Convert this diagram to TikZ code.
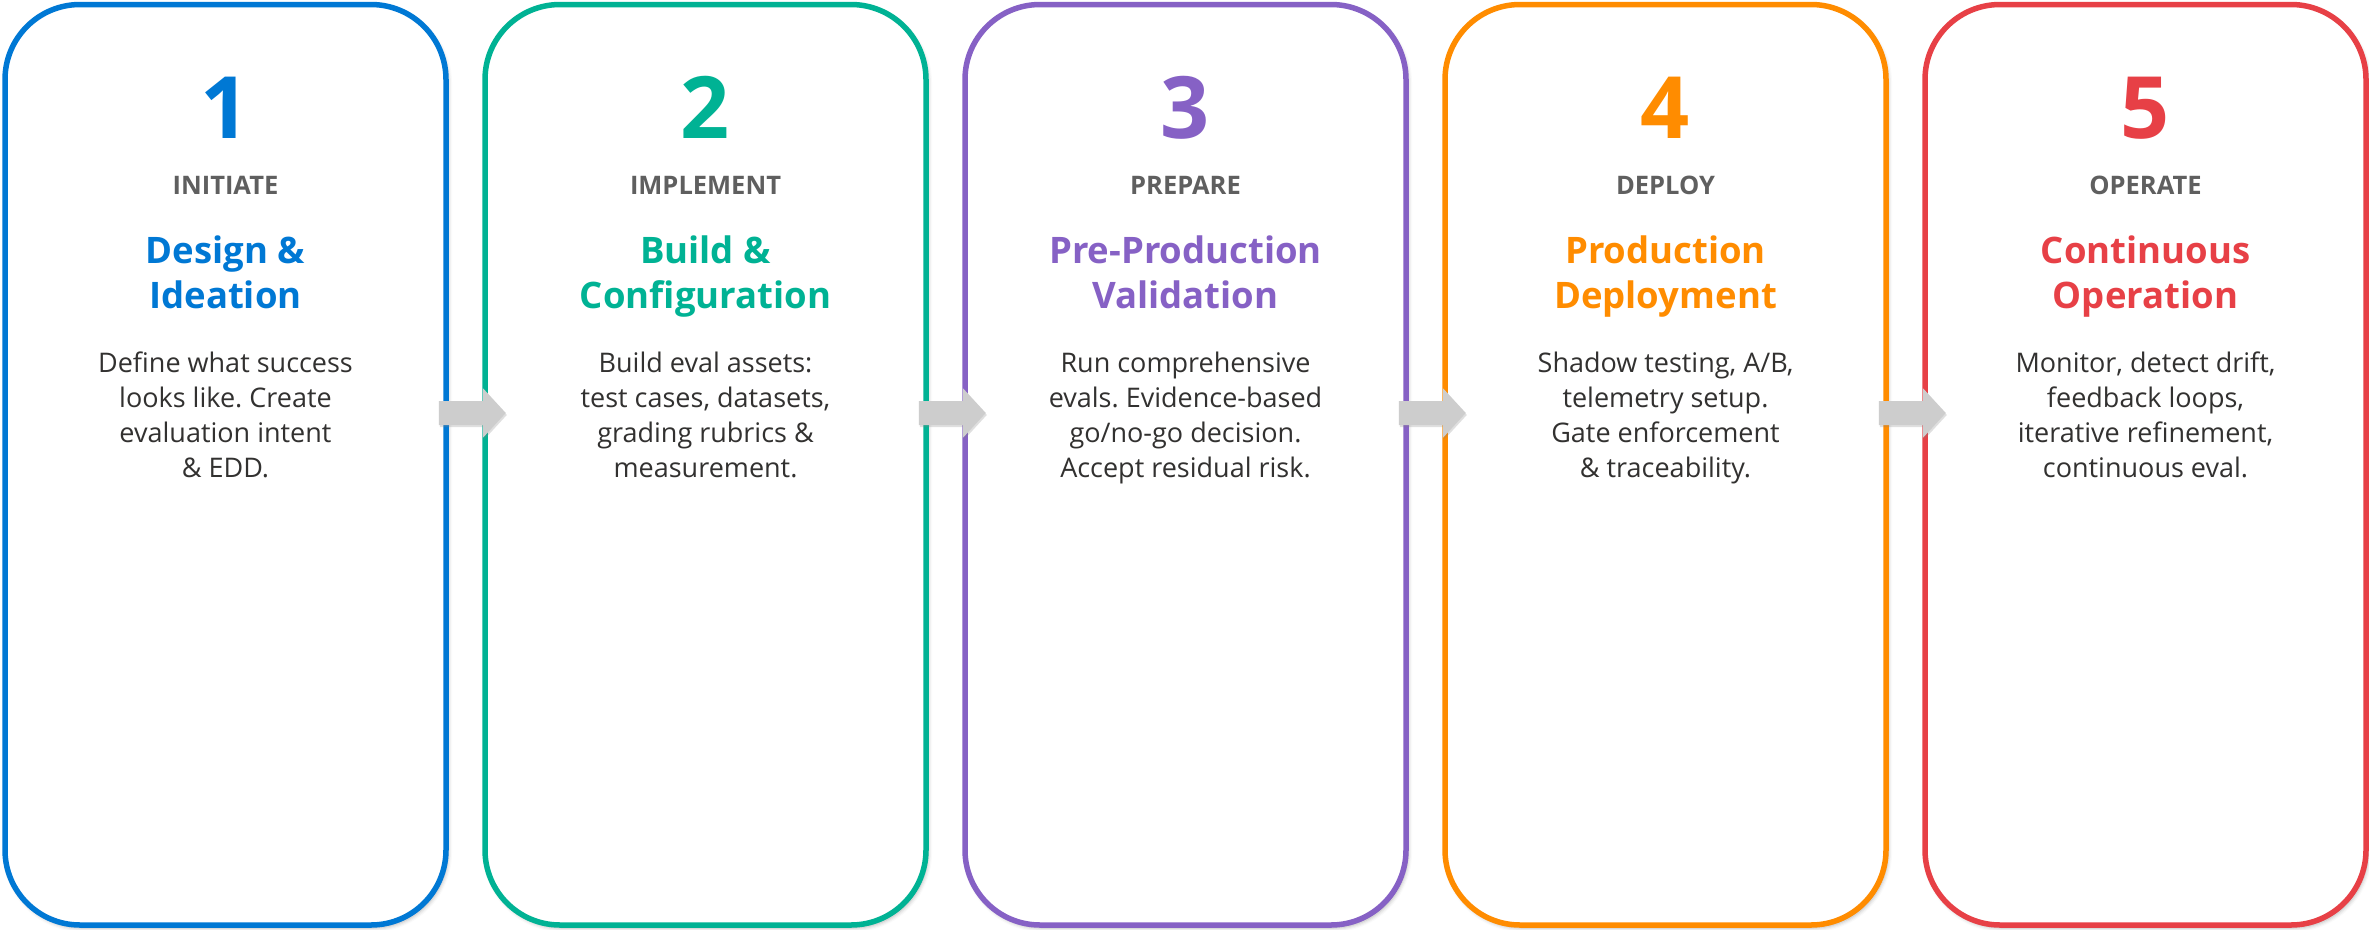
\documentclass[tikz,border=0pt]{standalone}
\usepackage{fontspec}
\setmainfont{Open Sans}
\frenchspacing
\usetikzlibrary{shadows.blur,shadows,calc}

\definecolor{cBlue}{HTML}{0078D4}
\definecolor{cTeal}{HTML}{00B294}
\definecolor{cPurple}{HTML}{8661C5}
\definecolor{cOrange}{HTML}{FF8C00}
\definecolor{cRed}{HTML}{E74046}
\definecolor{labelgray}{HTML}{5F5F5F}
\definecolor{bodytext}{HTML}{323130}
\definecolor{arrowgray}{HTML}{CDCDCD}

\tikzset{
  stagebox/.style={draw=#1, line width=5.5pt, fill=white, rounded corners=75pt,
    minimum width=441pt, minimum height=920.5pt, inner sep=0pt,
    blur shadow={shadow xshift=2pt, shadow yshift=-3pt, shadow blur radius=4pt, shadow opacity=30}},
  stagenum/.style={text=#1, font=\bfseries\fontsize{86}{86}\selectfont, anchor=base, inner sep=0pt},
  stagetag/.style={text=labelgray, font=\bfseries\fontsize{25.5}{30}\selectfont, anchor=base, inner sep=0pt},
  stagetitle/.style={text=#1, font=\bfseries\fontsize{36.5}{44.5}\selectfont, align=center, anchor=base, inner sep=0pt},
  stagebody/.style={text=bodytext, font=\fontsize{27}{35}\selectfont, align=center, anchor=base, inner sep=0pt},
  flowarrow/.style={fill=arrowgray, draw=none,
    drop shadow={shadow xshift=1pt, shadow yshift=-2pt, opacity=0.25}},
}

\begin{document}
\begin{tikzpicture}[x=1pt,y=-1pt]
\useasboundingbox (0,0) rectangle (2369,929);

% the five stage cards
\foreach \i/\col in {1/cBlue,2/cTeal,3/cPurple,4/cOrange,5/cRed}{
  \node[stagebox=\col] (box\i) at ({225.5+480*(\i-1)},464.75) {};
}

% block arrows between consecutive cards, laid over both borders
\foreach \i [evaluate=\i as \j using int(\i+1)] in {1,2,3,4}{
  \coordinate (tail\i) at ($(box\i.east)+(-10,-63.75)$);
  \path[flowarrow] (tail\i) -- ++(44,0) -- ++(0,-13) -- ++(23,25) -- ++(-23,25)
    -- ++(0,-13) -- ++(-44,0) -- cycle;
}

% card contents
\foreach \i/\col/\tag/\title/\body in {
  1/cBlue/INITIATE/{Design \&\\Ideation}/{Define what success\\looks like. Create\\evaluation intent\\\& EDD.},
  2/cTeal/IMPLEMENT/{Build \&\\Configuration}/{Build eval assets:\\test cases, datasets,\\grading rubrics \&\\measurement.},
  3/cPurple/PREPARE/{Pre-Production\\Validation}/{Run comprehensive\\evals. Evidence-based\\go/no-go decision.\\Accept residual risk.},
  4/cOrange/DEPLOY/{Production\\Deployment}/{Shadow testing, A/B,\\telemetry setup.\\Gate enforcement\\\& traceability.},
  5/cRed/OPERATE/{Continuous\\Operation}/{Monitor, detect drift,\\feedback loops,\\iterative refinement,\\continuous eval.}}{
  \node[stagenum=\col] (num\i) at ({225.5+480*(\i-1)},138) {\i};
  \node[stagetag] (tag\i) at ({225.5+480*(\i-1)},194) {\tag};
  % multi-line nodes sit on the baseline of their last line
  \node[stagetitle=\col] (title\i) at ({225.5+480*(\i-1)},308) {\title};
  \node[stagebody] (body\i) at ({225.5+480*(\i-1)},477) {\body};
}
\end{tikzpicture}
\end{document}
